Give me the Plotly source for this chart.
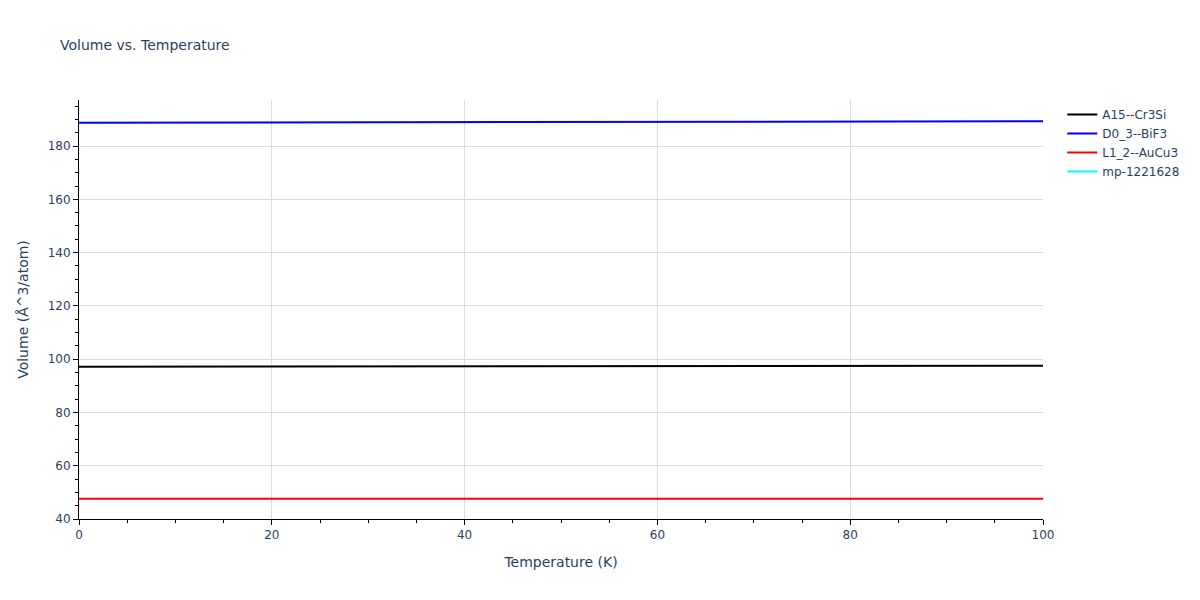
import plotly.graph_objects as go

# temperatures (K) and volumes (A^3/atom)
temperature = [0, 10, 20, 30, 40, 50, 60, 70, 80, 90, 100]
vol_a15 = [97.20, 97.22, 97.25, 97.28, 97.31, 97.34, 97.37, 97.40, 97.43, 97.47, 97.50]
vol_d03 = [188.75, 188.78, 188.82, 188.87, 188.92, 188.98, 189.04, 189.10, 189.17, 189.24, 189.32]
vol_l12 = [47.60, 47.60, 47.60, 47.60, 47.60, 47.61, 47.61, 47.61, 47.61, 47.62, 47.62]
# mp-1221628 has no visible points in the reference
temp_mp = [None]
vol_mp = [None]

series = [
    ("A15--Cr3Si", temperature, vol_a15, "black"),
    ("D0_3--BiF3", temperature, vol_d03, "blue"),
    ("L1_2--AuCu3", temperature, vol_l12, "red"),
    ("mp-1221628", temp_mp, vol_mp, "cyan"),
]

fig = go.Figure()
for name, xs, ys, color in series:
    fig.add_trace(
        go.Scatter(
            x=xs, y=ys, mode="lines", name=name,
            line=dict(color=color, width=2), showlegend=True,
        )
    )

axis_common = dict(
    showline=True,
    linecolor="black",
    linewidth=1,
    ticks="outside",
    tickcolor="black",
    showgrid=True,
    gridcolor="#dcdcdc",
    zeroline=False,
    title_font=dict(size=14),
    minor=dict(ticks="outside", tickcolor="black", dtick=5, ticklen=3),
)

# the page body adds an 8px offset, so margins are pulled in by 8px
fig.update_layout(
    title=dict(text="Volume vs. Temperature", x=52 / 1200, y=1 - 37 / 600,
               xanchor="left", yanchor="middle", font=dict(size=14)),
    template="plotly_white",
    width=1200,
    height=600,
    margin=dict(l=71, r=165, t=92, b=89),
    font=dict(family="DejaVu Sans, Verdana, sans-serif", size=12),
    xaxis=dict(title="Temperature (K)", range=[0, 100], dtick=20, **axis_common),
    yaxis=dict(title="Volume (Å^3/atom)", range=[40, 197.3], dtick=20, **axis_common),
)

fig.write_html("out.html")
